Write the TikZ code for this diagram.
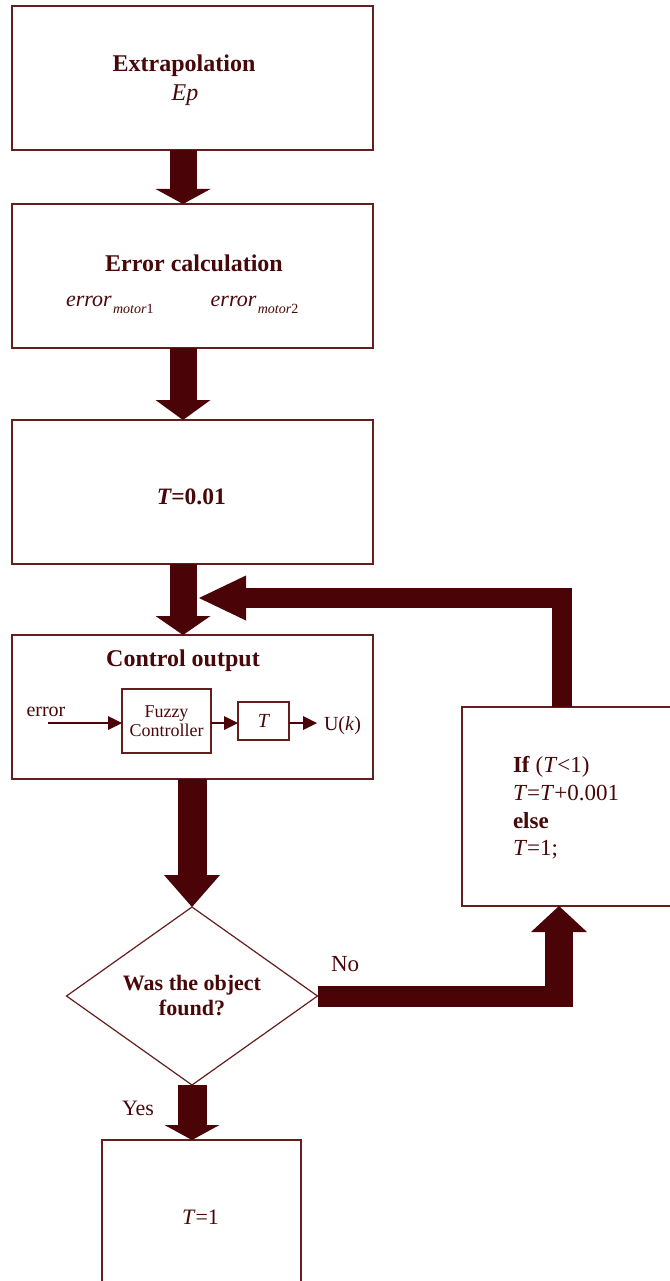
\documentclass[tikz,border=0pt]{standalone}
\usepackage{fontspec}
\setmainfont{Liberation Serif}
\usetikzlibrary{arrows.meta,shapes.geometric,calc}
\definecolor{arrowc}{RGB}{74,3,6}
\definecolor{linec}{RGB}{100,30,30}
\definecolor{textc}{RGB}{72,8,10}
\newcommand\myfs[2][]{\fontsize{#2}{#2}\selectfont}
\tikzset{
  box/.style={draw=linec, line width=1.2pt, fill=white, inner sep=0pt, outer sep=0pt,
              minimum width=361pt, minimum height=144pt},
  ibox/.style={draw=linec, line width=1.2pt, inner sep=0pt, outer sep=0pt, text=textc, align=center},
  txt/.style={text=textc, inner sep=0pt, outer sep=0pt, anchor=base},
  ltxt/.style={text=textc, inner sep=0pt, outer sep=0pt, anchor=base west},
  bigline/.style={draw=arrowc, line width=#1, line cap=butt, line join=miter},
  bhead/.style 2 args={-{Triangle[length=#1,width=#2,line width=0pt]}},
  sarrow/.style={draw=arrowc, line width=1.3pt, -{Triangle[length=14pt,width=14pt,line width=0pt]}},
}
\begin{document}
\begin{tikzpicture}[x=1pt,y=-1pt]
\useasboundingbox[fill=white] (0,0) rectangle (669,1281);

% main boxes
\node[box] (box1) at (192.5,78) {};
\node[box] (box2) at (192.5,276) {};
\node[box] (box3) at (192.5,492) {};
\node[box] (box4) at (192.5,707) {};
\node[box, anchor=north west, minimum width=215pt, minimum height=199pt] (ifbox) at (462,707) {};
\node[box, anchor=north west, minimum width=199pt, minimum height=170pt] (endbox) at (102,1140) {};
\node[draw=linec, line width=1.2pt, fill=white, shape=diamond, aspect=1.41, inner sep=0pt, outer sep=0pt,
      minimum width=251pt, minimum height=178pt, align=center, text=textc,
      font=\fontsize{22}{25}\selectfont\bfseries]
      (dia) at (192,996) {Was the object\\found?};

% texts
\node[txt] (t1) at (184,71.7) {\myfs{24}\bfseries Extrapolation};
\node[txt] (t2) at (185,101) {\myfs{24}\itshape Ep};
\node[txt] (t3) at (194,271) {\myfs{24}\bfseries Error calculation};
\node[ltxt] (t4) at (66,306.5) {\myfs{22}\itshape error\hspace{1.5pt}\raisebox{-7pt}{\myfs{14}motor\upshape 1}};
\node[ltxt] (t5) at (210.7,306.5) {\myfs{22}\itshape error\hspace{1.5pt}\raisebox{-7pt}{\myfs{14}motor\upshape 2}};
\node[txt] (t6) at (191.4,504.3) {\myfs{23.5}\bfseries\itshape T\upshape =0.01};
\node[txt] (t7) at (183,666) {\myfs{24}\bfseries Control output};

% inner block diagram
\node[ltxt] (err) at (26.5,716) {\myfs{20}error};
\node[ibox, minimum width=89pt, minimum height=64pt, font=\fontsize{18}{19}\selectfont] (fuzzy) at (166.5,721)
      {Fuzzy\\Controller};
\node[ibox, minimum width=51pt, minimum height=38pt] (tb) at (263.5,721) {\myfs{20}\itshape T};
\node[ltxt] (uk) at (324,730) {\myfs{20}U(\textit{k})};
\coordinate (ein) at (48,723);
\coordinate (uend) at (317,723);
\draw[sarrow] (ein) -- (ein -| fuzzy.west);
\draw[sarrow] (fuzzy.east |- ein) -- (tb.west |- ein);
\draw[sarrow] (tb.east |- ein) -- (uend);

% right box text
\node[ltxt] (r1) at (513,772.7) {\myfs{23}\textbf{If} (\textit{T}<1)};
\node[ltxt] (r2) at (513,800.4) {\myfs{23}\textit{T}=\textit{T}+0.001};
\node[ltxt] (r3) at (513,828.1) {\myfs{23}\bfseries else};
\node[ltxt] (r4) at (513,855.8) {\myfs{23}\textit{T}=1;};

\node[ltxt] (no) at (331,971.7) {\myfs{23}No};
\node[ltxt] (yes) at (122,1115.7) {\myfs{22}Yes};
\node[txt] (t8) at (200.5,1224) {\myfs{22}\textit{T}=1};

% block arrows
\draw[bigline=27pt, bhead={15pt}{55pt}] ([xshift=-9.5pt]box1.south) -- ([xshift=-9.5pt]box2.north);
\draw[bigline=27pt, bhead={20pt}{55pt}] ([xshift=-9.5pt]box2.south) -- ([xshift=-9.5pt]box3.north);
\draw[bigline=27pt, bhead={19pt}{55pt}] ([xshift=-9.5pt]box3.south) -- ([xshift=-9.5pt]box4.north);
\draw[bigline=29pt, bhead={32pt}{56pt}] (box4.south -| dia.north) -- (dia.north);
\draw[bigline=29pt, bhead={15pt}{55pt}] (dia.south) -- (dia.south |- endbox.north);

% feedback
\coordinate (fbtip) at (199,598);
\draw[bigline=20pt, bhead={47pt}{45pt}] ([xshift=99.5pt]ifbox.north west) |- (fbtip);

% No branch
\coordinate (nx) at (573,1007);
\coordinate (nup) at (559,1007);
\draw[bigline=21pt] (dia.east) -- (dia.east -| nx);
\draw[bigline=28pt, bhead={26pt}{56pt}] (nup) -- (nup |- ifbox.south);
\end{tikzpicture}
\end{document}
